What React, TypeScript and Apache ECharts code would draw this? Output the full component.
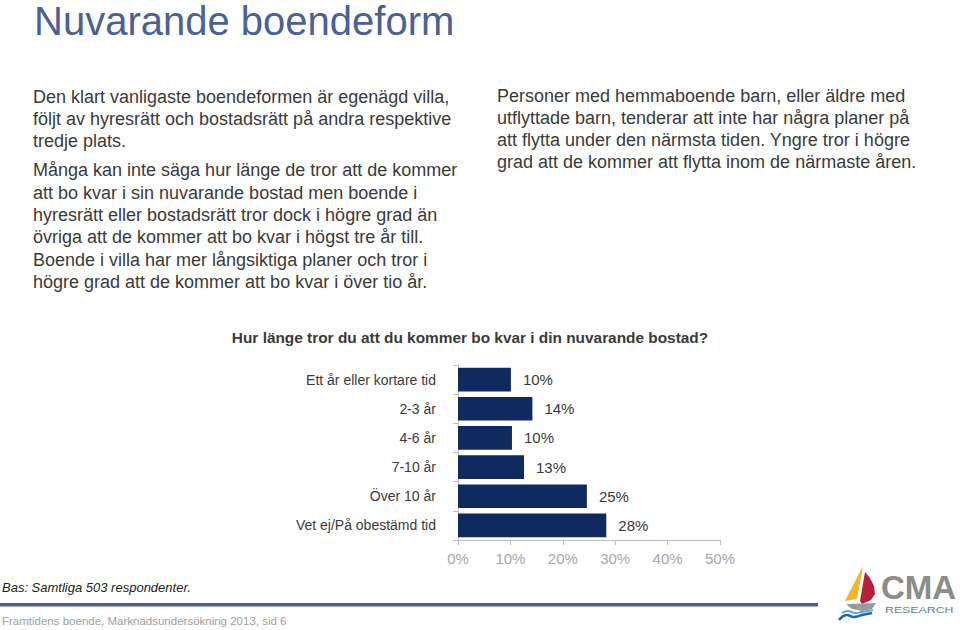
import React, { useEffect, useRef } from "react";
import * as echarts from "echarts";

const categories = [
  "Ett år eller kortare tid",
  "2-3 år",
  "4-6 år",
  "7-10 år",
  "Över 10 år",
  "Vet ej/På obestämd tid",
];
const values = [10.1, 14.2, 10.3, 12.6, 24.6, 28.3];
const axisMin = 0;
const axisMax = 50;
const axisInterval = 10;

const pageTitle = "Nuvarande boendeform";
const chartTitle = "Hur länge tror du att du kommer bo kvar i din nuvarande bostad?";
const leftPara1 = [
  "Den klart vanligaste boendeformen är egenägd villa,",
  "följt av hyresrätt och bostadsrätt på andra respektive",
  "tredje plats.",
];
const leftPara2 = [
  "Många kan inte säga hur länge de tror att de kommer",
  "att bo kvar i sin nuvarande bostad men boende i",
  "hyresrätt eller bostadsrätt tror dock i högre grad än",
  "övriga att de kommer att bo kvar i högst tre år till.",
  "Boende i villa har mer långsiktiga planer och tror i",
  "högre grad att de kommer att bo kvar i över tio år.",
];
const rightPara = [
  "Personer med hemmaboende barn, eller äldre med",
  "utflyttade barn, tenderar att inte har några planer på",
  "att flytta under den närmsta tiden. Yngre tror i högre",
  "grad att de kommer att flytta inom de närmaste åren.",
];
const baseNote = "Bas: Samtliga 503 respondenter.";
const footerNote = "Framtidens boende, Marknadsundersökning 2013, sid 6";

const FONT = "'Liberation Sans', Arial, Helvetica, sans-serif";

export default function App() {
  const ref = useRef<HTMLDivElement>(null);
  useEffect(() => {
    if (!ref.current) return;
    const chart = echarts.init(ref.current, null, { renderer: "svg" });
    const textColor = "#3a3a3a";
    chart.setOption({
      animation: false,
      backgroundColor: "#ffffff",
      textStyle: { fontFamily: FONT },
      grid: { left: 458, right: 240, top: 365, bottom: 90, containLabel: false },
      xAxis: {
        type: "value",
        min: axisMin,
        max: axisMax,
        interval: axisInterval,
        axisLine: { show: true, lineStyle: { color: "#c0c0c0", width: 1 } },
        axisTick: { show: true, length: 5, lineStyle: { color: "#c0c0c0" } },
        splitLine: { show: false },
        axisLabel: {
          formatter: "{value}%",
          color: "#a8a8a8",
          fontSize: 15,
          margin: 11,
          fontFamily: FONT,
        },
      },
      yAxis: {
        type: "category",
        data: categories,
        inverse: true,
        axisLine: { show: true, lineStyle: { color: "#c0c0c0", width: 1 } },
        axisTick: { show: true, length: 5, lineStyle: { color: "#c0c0c0" } },
        axisLabel: { color: textColor, fontSize: 14, margin: 22, fontFamily: FONT },
      },
      series: [
        {
          type: "bar",
          data: values,
          barCategoryGap: "19%",
          itemStyle: { color: "#0f2a5f" },
          label: {
            show: true,
            position: "right",
            distance: 12,
            color: textColor,
            fontSize: 15,
            fontFamily: FONT,
            formatter: (p: any) => Math.round(p.value) + "%",
          },
        },
      ],
      graphic: [
        {
          type: "text",
          x: 34,
          y: 21,
          style: {
            text: pageTitle,
            fontSize: 40,
            fill: "#4a6192",
            fontFamily: FONT,
            verticalAlign: "middle",
          },
        },
        {
          type: "text",
          left: 33,
          top: 86,
          style: { text: leftPara1.join("\n"), fontSize: 18, lineHeight: 22, fill: textColor, fontFamily: FONT },
        },
        {
          type: "text",
          left: 33,
          top: 159,
          style: { text: leftPara2.join("\n"), fontSize: 18, lineHeight: 22.4, fill: textColor, fontFamily: FONT },
        },
        {
          type: "text",
          left: 497,
          top: 85,
          style: { text: rightPara.join("\n"), fontSize: 18, lineHeight: 22, fill: textColor, fontFamily: FONT },
        },
        {
          type: "text",
          x: 470,
          y: 337,
          style: {
            text: chartTitle,
            fontSize: 15.4,
            fontWeight: "bold",
            fill: textColor,
            fontFamily: FONT,
            align: "center",
            verticalAlign: "middle",
          },
        },
        {
          type: "text",
          x: 2,
          y: 587,
          style: {
            text: baseNote,
            fontSize: 13,
            fontStyle: "italic",
            fill: "#222",
            fontFamily: FONT,
            verticalAlign: "middle",
          },
        },
        {
          type: "rect",
          shape: { x: 0, y: 603, width: 818, height: 3.5 },
          style: { fill: "#4a6192" },
        },
        {
          type: "text",
          x: 2,
          y: 621,
          style: {
            text: footerNote,
            fontSize: 11.5,
            fill: "#a0a0a0",
            fontFamily: FONT,
            verticalAlign: "middle",
          },
        },
        // Logo
        {
          type: "polygon",
          shape: { points: [[863, 566], [845, 601], [857, 599]] },
          style: { fill: "#f2b42a" },
        },
        {
          type: "polygon",
          shape: {
            points: [[865, 572], [870, 578], [874, 586], [875, 594], [871, 600], [862, 604], [860, 601]],
          },
          style: { fill: "#b3213b" },
        },
        {
          type: "polygon",
          shape: {
            points: [[846, 604], [876, 603], [872, 609], [862, 611], [852, 609]],
          },
          style: { fill: "#9a9a9a" },
        },
        {
          type: "polyline",
          shape: { points: [[842, 613], [848, 611], [855, 613], [862, 612], [873, 610]], smooth: 0.5 },
          style: { stroke: "#5ea7dc", lineWidth: 2, fill: "none" },
        },
        {
          type: "polyline",
          shape: { points: [[839, 620], [846, 615], [854, 617], [862, 615], [872, 613]], smooth: 0.5 },
          style: { stroke: "#1b6bb3", lineWidth: 2.5, fill: "none" },
        },
        {
          type: "text",
          x: 881,
          y: 604,
          style: {
            text: "CMA",
            fontSize: 33,
            fontWeight: "bold",
            fill: "#8c8c8c",
            fontFamily: FONT,
            verticalAlign: "bottom",
          },
        },
        {
          type: "text",
          x: 885,
          y: 610,
          scaleX: 1.45,
          originX: 0,
          originY: 0,
          style: {
            text: "RESEARCH",
            fontSize: 8.5,
            fill: "#6a7c94",
            fontFamily: FONT,
            verticalAlign: "middle",
          },
        },
      ],
    });
    return () => chart.dispose();
  }, []);
  return (
    <div
      ref={ref}
      style={{ position: "fixed", left: 0, top: 0, width: 960, height: 630, background: "#fff" }}
    />
  );
}
